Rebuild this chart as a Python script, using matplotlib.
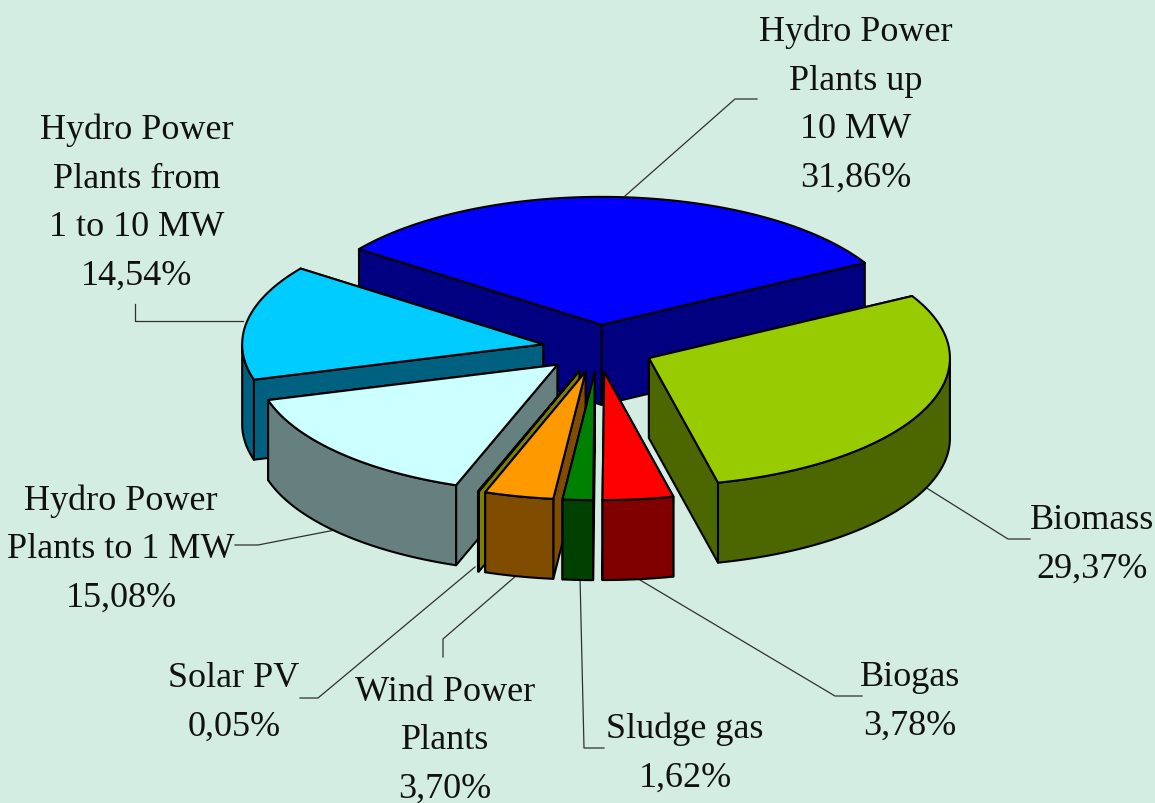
"""
Exploded 3D style pie of renewable capacity shares, drawn with polygons in pixel coords.
"""

import numpy as np
import matplotlib
matplotlib.use("Agg")
import matplotlib.pyplot as plt
from matplotlib.patches import Polygon

# slices, counter clockwise from the right edge of the big blue one
names = ["up10", "from1to10", "to1", "solar", "wind", "sludge", "biogas", "biomass"]
shares = [31.86, 14.54, 15.08, 0.05, 3.70, 1.62, 3.78, 29.37]
top_colors = ["#0000FF", "#00CCFF", "#CCFFFF", "#808000", "#FF9900", "#008000", "#FF0000", "#99CC00"]
side_colors = ["#000080", "#006080", "#668080", "#808000", "#804C00", "#004000", "#800000", "#4C6600"]

label_lines = [
    ["Hydro Power", "Plants up", "10 MW", "31,86%"],
    ["Hydro Power", "Plants from", "1 to 10 MW", "14,54%"],
    ["Hydro Power", "Plants to 1 MW", "15,08%"],
    ["Solar PV", "0,05%"],
    ["Wind Power", "Plants", "3,70%"],
    ["Sludge gas", "1,62%"],
    ["Biogas", "3,78%"],
    ["Biomass", "29,37%"],
]
label_x = [856, 137, 121, 234, 445, 685, 910, 1092]
label_y = [41, 139, 510, 687, 701, 738, 686, 529]

leaders = [
    ([625, 735, 757], [197, 100, 100]),
    ([135, 135, 243], [305, 322, 322]),
    ([235, 258, 340], [546, 546, 530]),
    ([300, 318, 475], [699, 699, 568]),
    ([443, 443, 517], [658, 640, 576]),
    ([604, 584, 580], [749, 749, 578]),
    ([862, 835, 635], [697, 697, 578]),
    ([1030, 1008, 925], [540, 540, 488]),
]

BG = "#D4EDE3"
CX, CY = 598, 349.5
RX, RY = 301, 128
DEPTH = 80
EXPLODE = 0.185
START = 29.0
LINE_GAP = 48.5

fig = plt.figure(figsize=(11.55, 8.04), dpi=100, facecolor=BG)
ax = fig.add_axes([0, 0, 1, 1])
ax.set_xlim(0, 1155)
ax.set_ylim(804, 0)
ax.axis("off")

fracs = np.array(shares) / sum(shares) * 360
ends = START + np.cumsum(fracs)
starts = ends - fracs
mids = (starts + ends) / 2


def draw_slice(i, z):
    a0, a1 = np.radians(starts[i]), np.radians(ends[i])
    mid = np.radians(mids[i])
    ax0 = CX + EXPLODE * RX * np.cos(mid)
    ay0 = CY - EXPLODE * RY * np.sin(mid)
    t = np.linspace(a0, a1, 200)
    arc_x = ax0 + RX * np.cos(t)
    arc_y = ay0 - RY * np.sin(t)
    style = dict(edgecolor="black", linewidth=1.5, joinstyle="round", zorder=z)

    # cut faces first, the one further back goes down first
    rim_ends = sorted([(arc_y[0], arc_x[0]), (arc_y[-1], arc_x[-1])])
    for ey, ex in rim_ends:
        face = [(ax0, ay0), (ex, ey), (ex, ey + DEPTH), (ax0, ay0 + DEPTH)]
        ax.add_patch(Polygon(face, facecolor=side_colors[i], **style))

    # outer wall only where the rim faces us
    front = np.sin(t) <= 0
    if front.any():
        wx, wy = arc_x[front], arc_y[front]
        wall = np.column_stack([np.r_[wx, wx[::-1]], np.r_[wy, wy[::-1] + DEPTH]])
        ax.add_patch(Polygon(wall, facecolor=side_colors[i], **style))

    top = np.column_stack([np.r_[ax0, arc_x], np.r_[ay0, arc_y]])
    ax.add_patch(Polygon(top, facecolor=top_colors[i], **style))


# paint from the back of the pie to the front
order = np.argsort(-np.sin(np.radians(mids)))
for z, i in enumerate(order):
    draw_slice(i, 2 + z)

for xs, ys in leaders:
    ax.plot(xs, ys, color="#303030", linewidth=0.9, zorder=1)

for lines, x, y in zip(label_lines, label_x, label_y):
    for n, line in enumerate(lines):
        ax.text(x, y + n * LINE_GAP, line, ha="center", va="baseline",
                family=["Liberation Serif", "DejaVu Serif"], fontsize=26, color="#111111", zorder=30)

fig.savefig("out.png", dpi=100, facecolor=BG)
